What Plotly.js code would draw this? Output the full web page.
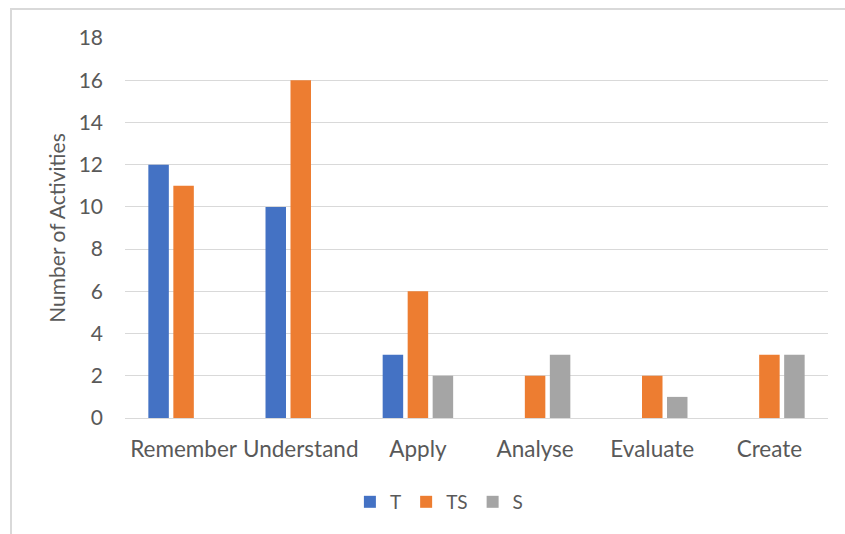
<!DOCTYPE html>
<html>
<head>
<meta charset="utf-8">
<script src="https://cdn.plot.ly/plotly-3.0.1.min.js"></script>
<style>
  html, body { margin: 0; padding: 0; background: #fff; }
  #wrap { position: relative; width: 845px; height: 534px; overflow: hidden; }
  #chart { position: absolute; left: 0; top: 0; width: 845px; height: 534px; }
  #frame { position: absolute; left: 10px; top: 8px; width: 860px; height: 560px;
           border: 2px solid #d9d9d9; box-sizing: border-box; pointer-events: none; }
</style>
</head>
<body>
<div id="wrap">
  <div id="chart"></div>
  <div id="frame"></div>
</div>
<script>
const categories = ["Remember", "Understand", "Apply", "Analyse", "Evaluate", "Create"];
const seriesT  = [12, 10, 3, 0, 0, 0];
const seriesTS = [11, 16, 6, 2, 2, 3];
const seriesS  = [0, 0, 2, 3, 1, 3];
const seriesNames = ["T", "TS", "S"];
const yTicks = [0, 2, 4, 6, 8, 10, 12, 14, 16, 18];

const colors = ["#4472c4", "#ed7d31", "#a5a5a5"];
const font = "Lato, 'Open Sans', sans-serif";

const traces = [seriesT, seriesTS, seriesS].map((vals, i) => ({
  type: "bar",
  name: seriesNames[i],
  x: categories,
  y: vals,
  marker: { color: colors[i] },
  hoverinfo: "none"
}));

const layout = {
  width: 845, height: 534,
  margin: { l: 125, r: 17, t: 38, b: 116 },
  paper_bgcolor: "#ffffff",
  plot_bgcolor: "#ffffff",
  barmode: "group",
  bargap: 0.36,
  bargroupgap: 0.18,
  font: { family: font, color: "#595959", size: 21 },
  showlegend: true,
  legend: {
    orientation: "h",
    x: 0.52, xanchor: "center", xref: "container",
    y: 0.06, yanchor: "middle", yref: "container",
    font: { size: 19, color: "#595959" },
    itemwidth: 30,
    traceorder: "normal"
  },
  xaxis: {
    type: "category",
    showgrid: false,
    showline: false,
    zeroline: false,
    ticks: "",
    ticklabelstandoff: 15,
    tickfont: { size: 22.5, color: "#595959" }
  },
  yaxis: {
    range: [0, 18],
    tickvals: yTicks,
    ticktext: yTicks.map(String),
    showgrid: true,
    gridcolor: "#d9d9d9",
    gridwidth: 1,
    zeroline: true,
    zerolinecolor: "#d9d9d9",
    zerolinewidth: 1,
    showline: false,
    ticks: "",
    ticklabelstandoff: 21,
    tickfont: { size: 21, color: "#595959" },
    title: { text: "Number of Activities", font: { size: 21, color: "#595959" }, standoff: 7 }
  }
};

Plotly.newPlot("chart", traces, layout, { displayModeBar: false, staticPlot: true });
</script>
</body>
</html>
